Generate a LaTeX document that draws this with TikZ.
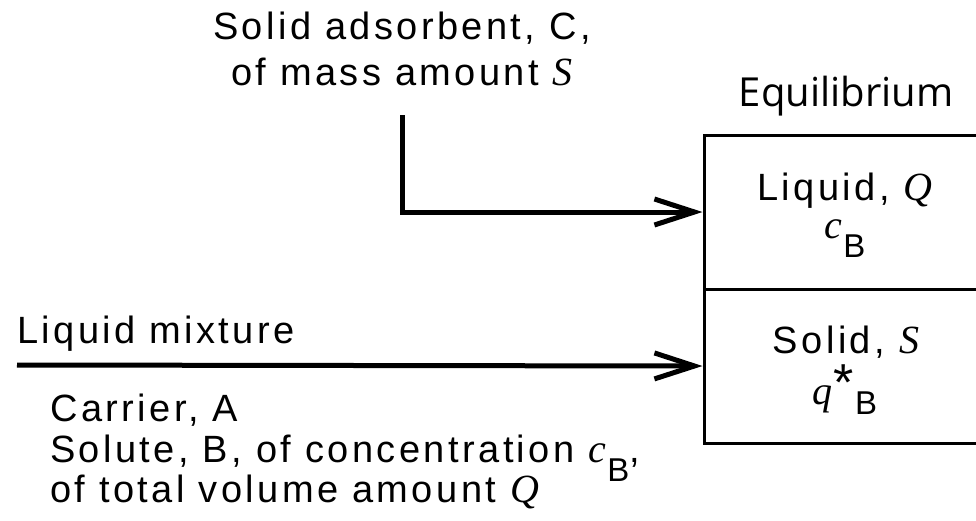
\documentclass[tikz,border=0pt]{standalone}
\usepackage{fontspec}
\setmainfont{Liberation Sans}[LetterSpace=9]
\newfontfamily\serifface{Liberation Serif}
\newfontfamily\eqface{Open Sans}
\usetikzlibrary{arrows.meta}
% italic variable symbols (Q, S, c, q)
\newcommand\symb[1]{{\serifface\itshape\fontsize{40}{40}\selectfont #1}}
% lowered subscript letter B
\newcommand\subB[1]{\raisebox{#1}{\fontsize{33}{33}\selectfont B}}
\tikzset{
  lbl/.style={inner sep=0pt, font=\fontsize{38}{44}\selectfont},
  stage/.style={draw, line width=3pt, minimum width=280pt, minimum height=154pt, inner sep=0pt},
  flow/.style={line width=5pt, -{Straight Barb[length=40pt,width=26pt]}},
}
\begin{document}
\begin{tikzpicture}[x=1pt,y=-1pt]
\useasboundingbox (0,0) rectangle (976,520);
\clip (0,0) rectangle (976,520);

% equilibrium vessel: liquid and solid phases
\node[stage] (liquid) at (844,212) {};
\node[stage] (solid)  at (844,366) {};
\node[inner sep=0pt, anchor=base, font=\eqface\fontsize{40}{40}\selectfont] (eqtitle) at (846,106) {Equilibrium};

\node[lbl, anchor=base] (liqname) at (845,200) {Liquid, \symb{Q}};
\node[lbl, anchor=base] (liqconc) at (845,238) {\symb{c}\kern1pt\subB{-19pt}};
\node[lbl, anchor=base] (solname) at (846,353) {Solid, \symb{S}};
\node[lbl, anchor=base] (solload) at (845,404) {\symb{q}\kern1pt\raisebox{4pt}{\fontsize{52}{52}\selectfont *}\kern1pt\subB{-10pt}};

% adsorbent feed
\node[lbl, anchor=base] (ads1) at (402,39) {Solid adsorbent, C,};
\node[lbl, anchor=base] (ads2) at (402,85) {of mass amount \symb{S}};
\coordinate (adsin) at (402,115);
\draw[flow] (adsin) |- (liquid.west);

% liquid mixture feed
\node[lbl, anchor=base west] (mixname) at (17,343) {Liquid mixture};
\coordinate (mixin) at (17,365);
\draw[flow] (mixin) -- (solid.west);
\node[lbl, anchor=base west] (carrier) at (50,421) {Carrier, A};
\node[lbl, anchor=base west] (solute) at (50,462) {Solute, B, of concentration \symb{c}\kern1pt\subB{-19pt},};
\node[lbl, anchor=base west] (volume) at (50,502) {of total volume amount \symb{Q}};
\end{tikzpicture}
\end{document}
